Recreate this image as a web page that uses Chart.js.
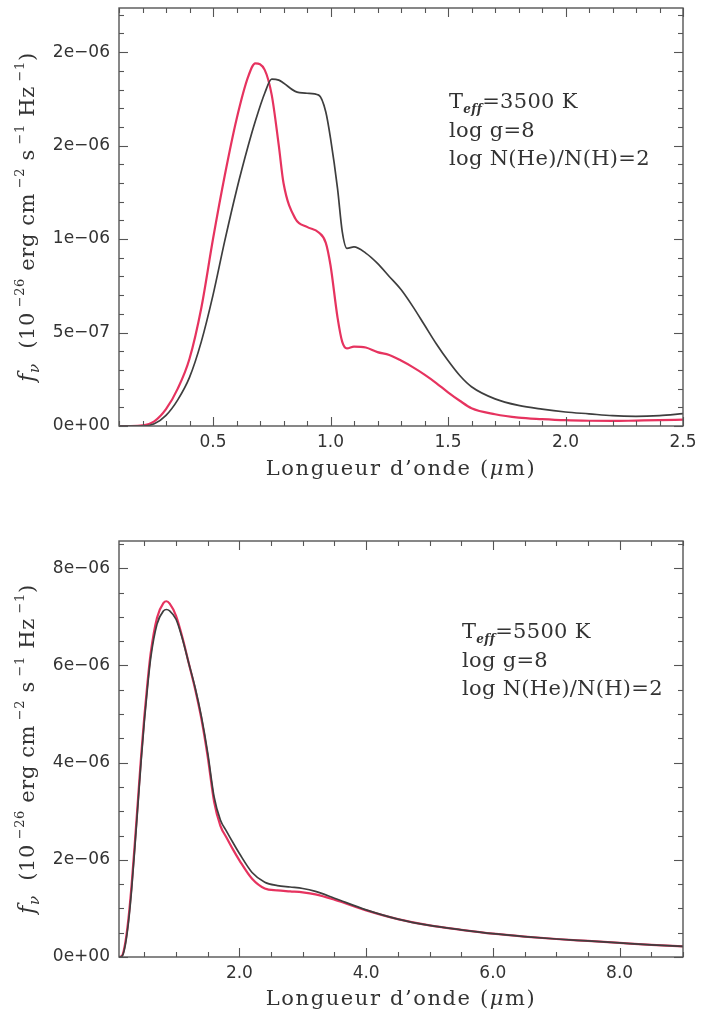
<!DOCTYPE html>
<html>
<head>
<meta charset="utf-8">
<script src="https://cdn.jsdelivr.net/npm/chart.js@4.4.1/dist/chart.umd.min.js"></script>
<style>
  html, body { margin: 0; padding: 0; background: #fff; }
  #wrap { position: relative; width: 701px; height: 1015px; }
  .panel { position: absolute; left: 0; width: 701px; }
  #top { top: 0; height: 500px; }
  #bottom { top: 505px; height: 510px; }
</style>
</head>
<body>
<div id="wrap">
  <div class="panel" id="top"><canvas id="chartTop" width="701" height="500"></canvas></div>
  <div class="panel" id="bottom"><canvas id="chartBottom" width="701" height="510"></canvas></div>
</div>
<script>
// Spectra f_nu, values in units of 1e-6 (as read on the axes)

// Top panel: Teff = 3500 K
const waveTop = [0.10, 0.15, 0.20, 0.25, 0.30, 0.35, 0.40, 0.45, 0.50, 0.55, 0.60, 0.65, 0.68, 0.72, 0.75,
                 0.78, 0.80, 0.85, 0.90, 0.95, 0.98, 1.00, 1.03, 1.05, 1.07, 1.10, 1.15, 1.20, 1.25, 1.30,
                 1.35, 1.40, 1.45, 1.50, 1.55, 1.60, 1.70, 1.80, 1.90, 2.00, 2.10, 2.20, 2.30, 2.40, 2.50];
const blackTop = [0, 0, 0, 0.012, 0.057, 0.14, 0.26, 0.45, 0.70, 0.99, 1.26, 1.50, 1.63, 1.78, 1.855,
                  1.85, 1.835, 1.79, 1.78, 1.77, 1.68, 1.54, 1.27, 1.04, 0.95, 0.958, 0.925, 0.87, 0.80, 0.73,
                  0.64, 0.54, 0.44, 0.35, 0.27, 0.21, 0.145, 0.11, 0.09, 0.075, 0.065, 0.055, 0.052, 0.056, 0.066];
const redTop = [0, 0, 0.003, 0.025, 0.09, 0.20, 0.36, 0.63, 1.00, 1.34, 1.64, 1.87, 1.94, 1.905, 1.77,
                1.50, 1.30, 1.11, 1.065, 1.035, 0.98, 0.86, 0.58, 0.45, 0.415, 0.425, 0.42, 0.395, 0.38, 0.35,
                0.315, 0.275, 0.23, 0.18, 0.135, 0.095, 0.063, 0.045, 0.037, 0.031, 0.028, 0.027, 0.029, 0.031, 0.034];
const xTicksTop = [0.5, 1.0, 1.5, 2.0, 2.5];
const xLabelsTop = ['0.5', '1.0', '1.5', '2.0', '2.5'];
const yTicksTop = [0, 0.5, 1.0, 1.5, 2.0];
const yLabelsTop = ['0e+00', '5e\u221207', '1e\u221206', '2e\u221206', '2e\u221206'];

// Bottom panel: Teff = 5500 K
const waveBot = [0.10, 0.15, 0.20, 0.25, 0.30, 0.35, 0.40, 0.45, 0.50, 0.55, 0.60, 0.70, 0.80, 0.85, 0.90,
                 1.00, 1.10, 1.20, 1.30, 1.40, 1.50, 1.60, 1.70, 1.80, 1.90, 2.00, 2.20, 2.40, 2.60, 2.80,
                 3.00, 3.20, 3.50, 4.00, 4.50, 5.00, 5.50, 6.00, 6.50, 7.00, 7.50, 8.00, 8.50, 9.00];
const blackBot = [0, 0.02, 0.25, 0.72, 1.40, 2.25, 3.15, 4.05, 4.85, 5.55, 6.15, 6.85, 7.12, 7.15, 7.12,
                  6.95, 6.55, 6.05, 5.55, 4.95, 4.20, 3.30, 2.82, 2.58, 2.35, 2.13, 1.74, 1.54, 1.47, 1.44,
                  1.41, 1.35, 1.21, 0.97, 0.78, 0.65, 0.56, 0.48, 0.42, 0.37, 0.33, 0.29, 0.25, 0.22];
const redBot = [0, 0.03, 0.30, 0.80, 1.50, 2.35, 3.25, 4.15, 4.95, 5.65, 6.25, 6.98, 7.28, 7.32, 7.27,
                7.02, 6.58, 6.05, 5.52, 4.90, 4.12, 3.20, 2.70, 2.45, 2.21, 1.99, 1.61, 1.41, 1.37, 1.35,
                1.33, 1.29, 1.18, 0.96, 0.78, 0.65, 0.56, 0.48, 0.42, 0.37, 0.33, 0.29, 0.25, 0.22];
const xTicksBot = [2, 4, 6, 8];
const xLabelsBot = ['2.0', '4.0', '6.0', '8.0'];
const yTicksBot = [0, 2, 4, 6, 8];
const yLabelsBot = ['0e+00', '2e\u221206', '4e\u221206', '6e\u221206', '8e\u221206'];

const BLACK = '#3e3e3e';
const RED = '#e6335f';
const AXIS = '#555555';
const TEXT = '#333333';
const SANS = '"DejaVu Sans", sans-serif';
const SERIF = '"DejaVu Serif", serif';

// draw a run of text pieces [text, font, dy]
function drawRich(ctx, parts, x, y, align) {
    let w = 0;
    parts.forEach(p => { ctx.font = p[1]; w += ctx.measureText(p[0]).width; });
    let cx = align === 'center' ? x - w / 2 : x;
    parts.forEach(p => {
        ctx.font = p[1];
        ctx.fillText(p[0], cx, y + (p[2] || 0));
        cx += ctx.measureText(p[0]).width;
    });
}

// frame with inward ticks on the four sides
const frameTicks = {
    id: 'frameTicks',
    afterDraw(chart, args, opts) {
        const { ctx, chartArea: a, scales: { x, y } } = chart;
        ctx.save();
        ctx.strokeStyle = AXIS;
        ctx.lineWidth = 1.4;
        ctx.strokeRect(a.left, a.top, a.right - a.left, a.bottom - a.top);
        ctx.lineWidth = 1.1;
        const seg = (x1, y1, x2, y2) => { ctx.beginPath(); ctx.moveTo(x1, y1); ctx.lineTo(x2, y2); ctx.stroke(); };
        const isMajor = (list, v, step) => list.some(t => Math.abs(t - v) < step / 10);

        for (let k = Math.ceil(x.min / opts.xStep); k * opts.xStep <= x.max + 1e-9; k++) {
            const v = k * opts.xStep;
            const len = isMajor(opts.xMajor, v, opts.xStep) ? 9 : 5;
            const px = Math.round(x.getPixelForValue(v)) + 0.5;
            seg(px, a.bottom, px, a.bottom - len);
            seg(px, a.top, px, a.top + len);
        }
        for (let k = Math.ceil(y.min / opts.yStep); k * opts.yStep <= y.max + 1e-9; k++) {
            const v = k * opts.yStep;
            const len = isMajor(opts.yMajor, v, opts.yStep) ? 9 : 5;
            const py = Math.round(y.getPixelForValue(v)) + 0.5;
            seg(a.left, py, a.left + len, py);
            seg(a.right, py, a.right - len, py);
        }
        ctx.restore();
    }
};

// axis titles and the parameter block
const labels = {
    id: 'labels',
    afterDraw(chart, args, opts) {
        const { ctx, chartArea: a } = chart;
        ctx.save();
        ctx.fillStyle = TEXT;
        ctx.textBaseline = 'alphabetic';
        const main = `21px ${SERIF}`;
        const ital = `italic 21px ${SERIF}`;
        const sup = `13px ${SERIF}`;

        // x title
        ctx.letterSpacing = '1.6px';
        drawRich(ctx, [
            ['Longueur d\u2019onde (', main],
            ['\u03BC', ital],
            ['m)', main]
        ], (a.left + a.right) / 2, opts.xTitleY, 'center');

        // y title, rotated
        ctx.letterSpacing = '0.6px';
        ctx.save();
        ctx.translate(opts.yTitleX, (a.top + a.bottom) / 2);
        ctx.rotate(-Math.PI / 2);
        drawRich(ctx, [
            ['f', `italic 22px ${SERIF}`],
            ['\u03BD', `italic 15px ${SERIF}`, 5],
            ['  (10', main],
            [' \u221226', sup, -10],
            [' erg cm', main],
            [' \u22122', sup, -10],
            [' s', main],
            [' \u22121', sup, -10],
            [' Hz', main],
            [' \u22121', sup, -10],
            [')', main]
        ], 0, 0, 'center');
        ctx.restore();

        // parameters
        ctx.letterSpacing = '0.3px';
        const px = opts.noteX, py = opts.noteY, lh = 28.5;
        drawRich(ctx, [
            ['T', main],
            ['eff', `italic bold 12px ${SERIF}`, 5],
            ['=' + opts.teff + ' K', main]
        ], px, py, 'left');
        drawRich(ctx, [['log g=8', main]], px, py + lh, 'left');
        drawRich(ctx, [['log N(He)/N(H)=2', main]], px, py + 2 * lh, 'left');
        ctx.restore();
    }
};

function buildPanel(id, p) {
    const tickFont = { family: SANS, size: 17 };
    return new Chart(document.getElementById(id), {
        type: 'line',
        data: {
            datasets: [{
                label: 'noir',
                data: p.wave.map((w, i) => ({ x: w, y: p.black[i] })),
                borderColor: BLACK,
                borderWidth: 1.7,
                pointRadius: 0,
                cubicInterpolationMode: 'monotone'
            }, {
                label: 'rouge',
                data: p.wave.map((w, i) => ({ x: w, y: p.red[i] })),
                borderColor: RED,
                borderWidth: 2.2,
                pointRadius: 0,
                cubicInterpolationMode: 'monotone'
            }]
        },
        options: {
            responsive: false,
            animation: false,
            events: [],
            layout: { padding: { left: 0, right: 18, top: p.padTop, bottom: 0 } },
            plugins: {
                legend: { display: false },
                tooltip: { enabled: false },
                frameTicks: p.ticks,
                labels: p.labels
            },
            scales: {
                x: {
                    type: 'linear',
                    min: p.xMin,
                    max: p.xMax,
                    afterBuildTicks: s => { s.ticks = p.xTicks.map(v => ({ value: v })); },
                    afterFit: s => { s.height = p.xAxisH; s.paddingLeft = 0; s.paddingRight = 0; },
                    ticks: {
                        callback: (v, i) => p.xLabels[i],
                        font: tickFont, color: TEXT, padding: 6,
                        maxRotation: 0, autoSkip: false
                    },
                    grid: { display: false, drawTicks: false },
                    border: { display: false }
                },
                y: {
                    type: 'linear',
                    min: 0,
                    max: p.yMax,
                    afterBuildTicks: s => { s.ticks = p.yTicks.map(v => ({ value: v })); },
                    afterFit: s => { s.width = 119; s.paddingTop = 0; s.paddingBottom = 0; },
                    ticks: {
                        callback: (v, i) => p.yLabels[i],
                        font: tickFont, color: TEXT, padding: 9,
                        autoSkip: false
                    },
                    grid: { display: false, drawTicks: false },
                    border: { display: false }
                }
            }
        },
        plugins: [frameTicks, labels]
    });
}

buildPanel('chartTop', {
    wave: waveTop, black: blackTop, red: redTop,
    xTicks: xTicksTop, xLabels: xLabelsTop, yTicks: yTicksTop, yLabels: yLabelsTop,
    xMin: 0.1, xMax: 2.5, yMax: 2.236,
    padTop: 8, xAxisH: 74,
    ticks: { xStep: 0.1, xMajor: xTicksTop, yStep: 0.1, yMajor: yTicksTop },
    labels: { xTitleY: 475, yTitleX: 34, noteX: 449, noteY: 108, teff: '3500' }
});

buildPanel('chartBottom', {
    wave: waveBot, black: blackBot, red: redBot,
    xTicks: xTicksBot, xLabels: xLabelsBot, yTicks: yTicksBot, yLabels: yLabelsBot,
    xMin: 0.1, xMax: 9.0, yMax: 8.56,
    padTop: 36, xAxisH: 58,
    ticks: { xStep: 0.5, xMajor: xTicksBot, yStep: 0.5, yMajor: yTicksBot },
    labels: { xTitleY: 500, yTitleX: 34, noteX: 462, noteY: 133, teff: '5500' }
});
</script>
</body>
</html>
